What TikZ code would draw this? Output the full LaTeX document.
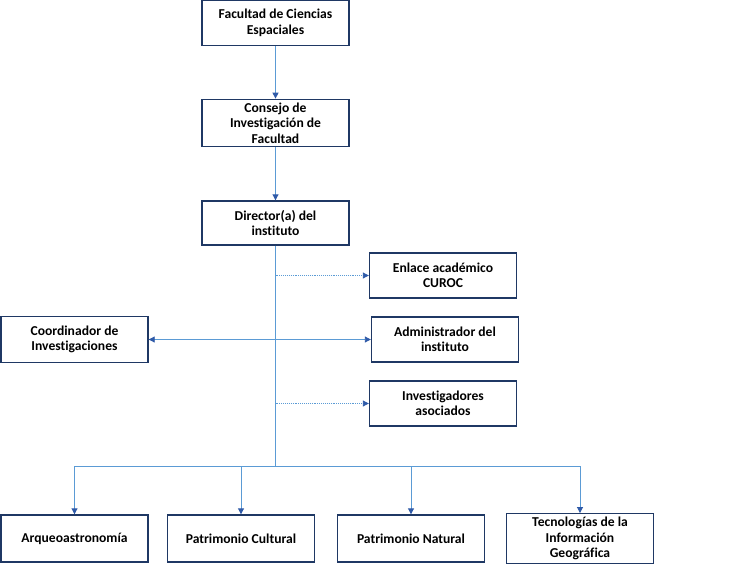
\documentclass[tikz,border=0pt]{standalone}
\usepackage{fontspec}
\setmainfont{Carlito}[Ligatures=NoCommon]
\usetikzlibrary{positioning,arrows.meta}
\definecolor{boxline}{HTML}{1F3864}
\definecolor{conn}{HTML}{5B9BD5}
\definecolor{tipblue}{HTML}{2F5AA8}
\tikzstyle{unit} = [rectangle, minimum width=147pt, minimum height=45pt, align=center, draw=boxline, line width=1.4pt, fill=white, font=\fontsize{13.6}{15.5}\selectfont\bfseries]
\tikzstyle{line} = [conn, line width=0.9pt]
\tikzstyle{arrow} = [line, -{Triangle[length=6pt,width=6pt,color=tipblue]}]
\tikzstyle{dotarrow} = [arrow, densely dotted]
\tikzstyle{biarrow} = [line, {Triangle[length=6pt,width=6pt,color=tipblue]}-{Triangle[length=6pt,width=6pt,color=tipblue]}]

\begin{document}
\begin{tikzpicture}[x=1pt,y=1pt]
\useasboundingbox (0,0) rectangle (745,-571);
\node (facultad) at (275.5,-23) [unit] {Facultad de Ciencias\\Espaciales};
%
\node (consejo) at (275.5,-123) [unit, minimum height=46pt] {Consejo de\\Investigación de\\Facultad};
%
\node (director) at (275.5,-223) [unit, minimum height=44pt] {Director(a) del\\instituto};
%
\node (enlace) at (443,-275.5) [unit] {Enlace académico\\CUROC};
%
\node (admin) at (445,-339.5) [unit] {Administrador del\\instituto};
%
\node (invest) at (443,-403.5) [unit] {Investigadores\\asociados};
%
\node (coord) at (74.5,-339.5) [unit, minimum height=46pt] {Coordinador de\\Investigaciones};
%
\node (arqueo) at (74.5,-538.5) [unit, minimum height=47pt] {Arqueoastronomía};
%
\node (patcult) at (241,-538.5) [unit, minimum height=47pt] {Patrimonio Cultural};
%
\node (patnat) at (411,-538.5) [unit, minimum height=47pt] {Patrimonio Natural};
%
\node (tecno) at (580,-538.5) [unit, minimum height=47pt] {Tecnologías de la\\Información\\Geográfica};
%
\coordinate (split) at (275.5,-466);
%
\draw [arrow] (facultad) -- (consejo);
\draw [arrow] (consejo) -- (director);
\draw [line] (director) -- (split);
\draw [dotarrow] (director.south |- enlace.west) -- (enlace.west);
\draw [biarrow] (coord.east) -- (admin.west);
\draw [dotarrow] (director.south |- invest.west) -- (invest.west);
\draw [arrow] (split) -| (arqueo.north);
\draw [arrow] (split) -| (patcult.north);
\draw [arrow] (split) -| (patnat.north);
\draw [arrow] (split) -| (tecno.north);

\end{tikzpicture}
\end{document}
